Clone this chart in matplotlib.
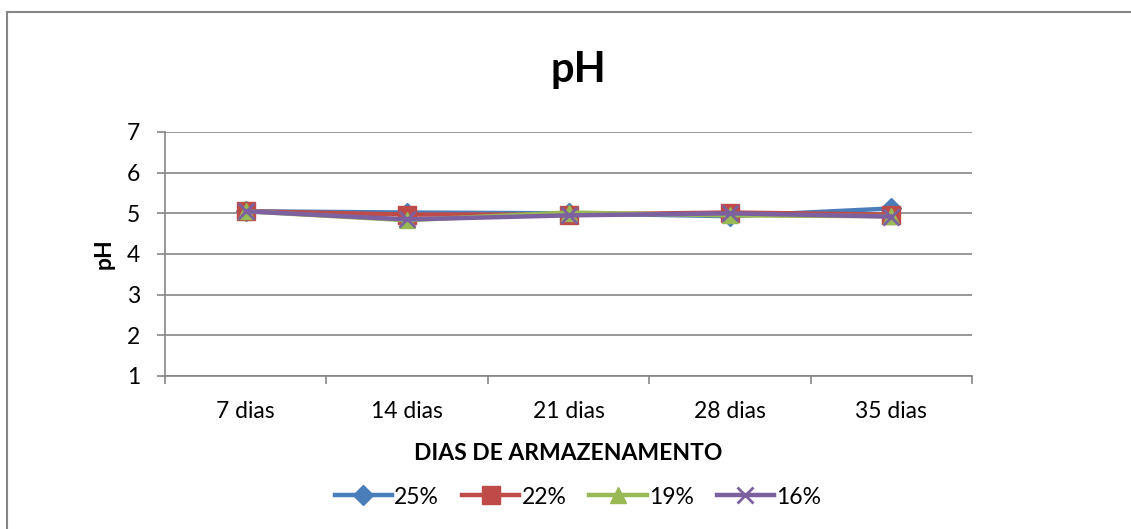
import matplotlib
matplotlib.use("Agg")
import matplotlib.pyplot as plt
from matplotlib.lines import Line2D
import numpy as np

plt.rcParams['font.family'] = ['Lato', 'DejaVu Sans']

categories = ["7 dias", "14 dias", "21 dias", "28 dias", "35 dias"]
series_names = ["25%", "22%", "19%", "16%"]
s25 = [5.05, 5.02, 5.00, 4.93, 5.12]
s22 = [5.05, 4.97, 4.97, 5.02, 4.97]
s19 = [5.05, 4.83, 5.02, 4.95, 4.93]
s16 = [5.05, 4.85, 4.95, 5.00, 4.92]
values = [s25, s22, s19, s16]
colors = ["#4A7EBB", "#BE4B48", "#98B954", "#7D60A0"]
markers = ["D", "s", "^", "x"]
msizes = [10, 12.5, 12, 12]

W, H = 1131, 529
fig = plt.figure(figsize=(W / 100, H / 100), dpi=100)
ax = fig.add_axes([165 / W, (H - 376) / H, 807 / W, 244 / H])

x = np.arange(len(categories))
for vals, c, m, ms, name in zip(values, colors, markers, msizes, series_names):
    ax.plot(x, vals, color=c, lw=3.2, marker=m, ms=ms, mew=2 if m == "x" else 1,
            mec=c, mfc=c, label=name, solid_joinstyle='round', zorder=3)

ax.set_xlim(-0.5, len(categories) - 0.5)
ax.set_ylim(1, 7)
ax.set_yticks(range(1, 8))
ax.set_xticks(x)
ax.set_xticklabels(categories, fontsize=16.5)
ax.set_xticks(np.arange(-0.5, len(categories)), minor=True)
ax.tick_params(axis='x', which='major', length=0, pad=18)
ax.tick_params(axis='x', which='minor', length=6, color='#868686', width=1.2)
ax.tick_params(axis='y', length=6, color='#868686', width=1.2, labelsize=16.5, pad=12)
ax.yaxis.grid(True, color='#868686', lw=1.2)
ax.set_axisbelow(True)
for s in ['top', 'right']:
    ax.spines[s].set_visible(False)
for s in ['left', 'bottom']:
    ax.spines[s].set_color('#868686')
    ax.spines[s].set_linewidth(1.2)

ax.set_ylabel("pH", fontsize=16.5, fontweight='bold', labelpad=9)
ax.set_xlabel("DIAS DE ARMAZENAMENTO", fontsize=16.5, fontweight='bold', labelpad=15)
fig.text(578 / W, 1 - 70 / H, "pH", fontsize=30, fontweight='bold', ha='center', va='center')

handles = [Line2D([0], [0], color=c, lw=3.2, marker=m, ms=ms, mew=2 if m == "x" else 1,
                  mec=c, mfc=c) for c, m, ms in zip(colors, markers, msizes)]
fig.legend(handles, series_names, loc='center', bbox_to_anchor=(578 / W, 1 - 497 / H),
           ncol=4, frameon=False, fontsize=16.5, handlelength=2.5, columnspacing=1.0,
           handletextpad=0.1)

# outer chart border (top and left only visible)
fig.add_artist(Line2D([7 / W, 7 / W], [0, 1 - 12 / H], transform=fig.transFigure,
                      color='#868686', lw=1.5))
fig.add_artist(Line2D([7 / W, 1], [1 - 12 / H, 1 - 12 / H], transform=fig.transFigure,
                      color='#868686', lw=1.5))

fig.savefig("out.png", dpi=100)
